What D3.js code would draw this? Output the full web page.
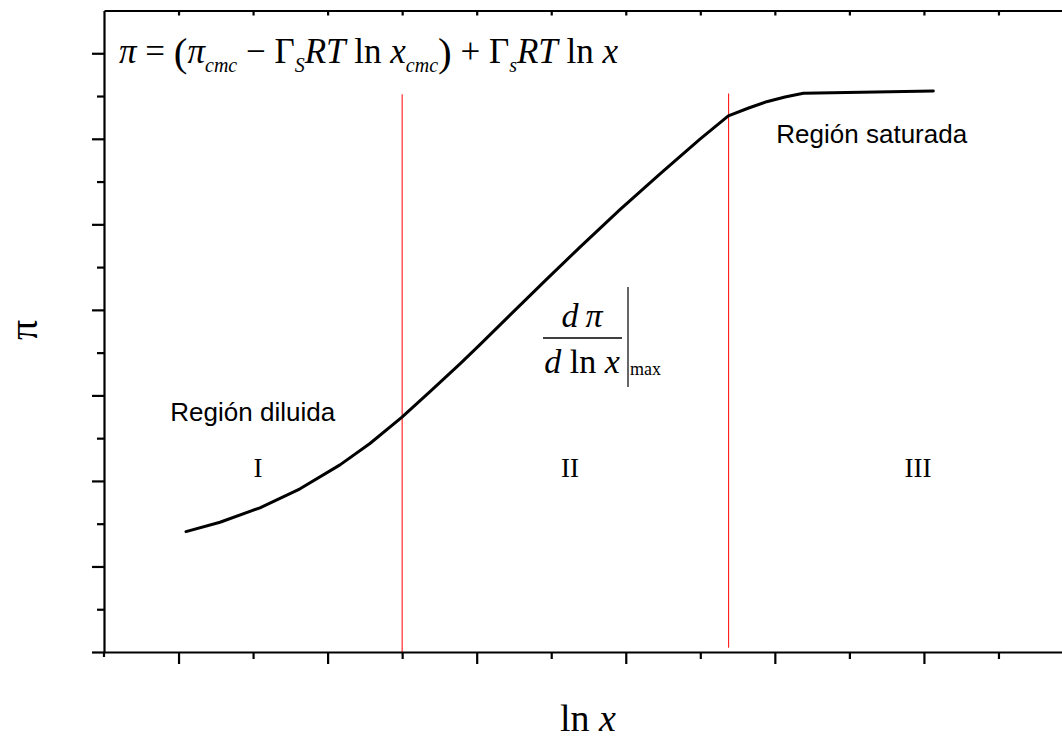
<!DOCTYPE html>
<html>
<head>
<meta charset="utf-8">
<script src="https://cdn.jsdelivr.net/npm/d3@7/dist/d3.min.js"></script>
<style>
  html, body { margin: 0; padding: 0; background: #fff; }
  svg { display: block; }
  .serif { font-family: "Liberation Serif", "Times New Roman", serif; }
  .sans { font-family: "Liberation Sans", Arial, sans-serif; }
</style>
</head>
<body>
<svg id="chart" width="1062" height="738"></svg>
<script>
// Surface pressure isotherm: pi versus ln x
const lnX = [1.050, 1.278, 1.546, 1.815, 2.083, 2.284, 2.497, 2.685, 2.888, 3.022, 3.223,
             3.470, 3.693, 3.961, 4.230, 4.496, 4.688, 4.820, 4.945, 5.068, 5.191, 6.063];
const piValues = [1.407, 1.517, 1.686, 1.908, 2.188, 2.438, 2.743, 3.040, 3.368, 3.594, 3.938,
                  4.359, 4.734, 5.171, 5.591, 5.994, 6.269, 6.357, 6.434, 6.489, 6.532, 6.559];

// Region boundaries (vertical markers)
const boundaries = [
  { x: 2.5, y0: 0.0, y1: 6.52 },
  { x: 4.69, y0: 0.05, y1: 6.53 }
];

// Axis ticks (no numeric labels)
const xMajorTicks = [1, 2, 3, 4, 5, 6];
const xMinorTicks = [1.5, 2.5, 3.5, 4.5, 5.5, 6.5];
const yMajorTicks = [0, 1, 2, 3, 4, 5, 6, 7];
const yMinorTicks = [0.5, 1.5, 2.5, 3.5, 4.5, 5.5, 6.5];
const topTicks = [1, 1.5, 2, 2.5, 3, 3.5, 4, 4.5, 5, 5.5, 6, 6.5];

// Region labels
const regionNames = [
  { text: "Región diluida", x: 0.945, y: 2.7 },
  { text: "Región saturada", x: 5.01, y: 5.95 }
];
const romanLabels = [
  { text: "I", x: 1.533, y: 2.05 },
  { text: "II", x: 3.626, y: 2.05 },
  { text: "III", x: 5.96, y: 2.05 }
];

const svg = d3.select("#chart");
const W = 1062, H = 738;
svg.append("rect").attr("width", W).attr("height", H).attr("fill", "#fff");

const x = d3.scaleLinear().domain([0.5, 7]).range([104, 1073]);
const y = d3.scaleLinear().domain([0, 7.5]).range([652, 10.5]);

// Red boundary lines
svg.append("g").selectAll("line").data(boundaries).join("line")
  .attr("x1", d => x(d.x)).attr("x2", d => x(d.x))
  .attr("y1", d => y(d.y0)).attr("y2", d => y(d.y1))
  .attr("stroke", "#ff0000").attr("stroke-width", 1);

// Axes
function styleAxis(g) {
  g.selectAll("path.domain").attr("stroke", "#000").attr("stroke-width", 2.2);
  g.selectAll(".tick line").attr("stroke", "#000").attr("stroke-width", 2.2);
  g.selectAll(".tick text").remove();
}
svg.append("g").attr("transform", `translate(0,${y(0)})`)
  .call(d3.axisBottom(x).tickValues(xMajorTicks).tickSize(12).tickSizeOuter(0).tickFormat(""))
  .call(styleAxis);
svg.append("g").attr("transform", `translate(0,${y(0)})`)
  .call(d3.axisBottom(x).tickValues(xMinorTicks).tickSize(7).tickSizeOuter(0).tickFormat(""))
  .call(g => g.select("path.domain").remove())
  .call(styleAxis);
svg.append("g").attr("transform", `translate(0,${y(7.5)})`)
  .call(d3.axisBottom(x).tickValues(topTicks).tickSize(5).tickSizeOuter(0).tickFormat(""))
  .call(styleAxis);
svg.append("g").attr("transform", `translate(${x(0.5)},0)`)
  .call(d3.axisLeft(y).tickValues(yMajorTicks).tickSize(12).tickSizeOuter(0).tickFormat(""))
  .call(styleAxis);
svg.append("g").attr("transform", `translate(${x(0.5)},0)`)
  .call(d3.axisLeft(y).tickValues(yMinorTicks).tickSize(7).tickSizeOuter(0).tickFormat(""))
  .call(g => g.select("path.domain").remove())
  .call(styleAxis);
// short extension of the y axis below the x axis
svg.append("line").attr("x1", x(0.5)).attr("x2", x(0.5))
  .attr("y1", y(0)).attr("y2", y(0) + 5).attr("stroke", "#000").attr("stroke-width", 2.2);

// Isotherm curve
const line = d3.line().x((d, i) => x(lnX[i])).y((d, i) => y(piValues[i])).curve(d3.curveLinear);
svg.append("path").datum(lnX).attr("d", line)
  .attr("fill", "none").attr("stroke", "#000").attr("stroke-width", 3)
  .attr("stroke-linejoin", "round").attr("stroke-linecap", "round");

// Region labels
svg.append("g").selectAll("text").data(regionNames).join("text")
  .attr("class", "sans").attr("x", d => x(d.x)).attr("y", d => y(d.y))
  .attr("font-size", 26).attr("fill", "#000").text(d => d.text);
svg.append("g").selectAll("text").data(romanLabels).join("text")
  .attr("class", "serif").attr("x", d => x(d.x)).attr("y", d => y(d.y))
  .attr("text-anchor", "middle").attr("font-size", 27).attr("fill", "#000").text(d => d.text);

// Axis titles
svg.append("text").attr("class", "serif")
  .attr("transform", "translate(36.5,330) rotate(-90)")
  .attr("text-anchor", "middle").attr("font-size", 40).text("π");
const xt = svg.append("text").attr("class", "serif")
  .attr("x", 588).attr("y", 731).attr("text-anchor", "middle").attr("font-size", 38);
xt.append("tspan").text("ln ");
xt.append("tspan").attr("font-style", "italic").text("x");

// Equation at top-left: each piece gets its own baseline
const eqBase = 63;
const eq = svg.append("text").attr("class", "serif").attr("x", 119).attr("y", eqBase).attr("font-size", 35);
const parts = [
  ["π", "i"], [" = ", "n"], ["(", "p"], ["π", "i"], ["cmc", "sub"], [" − ", "n"], ["Γ", "n"], ["S", "sub"],
  ["RT", "i"], [" ln ", "n"], ["x", "i"], ["cmc", "sub"], [")", "p"], [" + ", "n"], ["Γ", "n"], ["s", "sub"],
  ["RT", "i"], [" ln ", "n"], ["x", "i"]
];
parts.forEach(([t, k]) => {
  const ts = eq.append("tspan").text(t);
  if (k === "i" || k === "sub") ts.attr("font-style", "italic");
  if (k === "sub") ts.attr("font-size", 20).attr("y", eqBase + 9);
  else if (k === "p") ts.attr("font-size", 41).attr("y", eqBase + 3);
  else ts.attr("y", eqBase);
});

// Derivative annotation
const fx = 582;
svg.append("text").attr("class", "serif").attr("x", fx).attr("y", 327)
  .attr("text-anchor", "middle").attr("font-size", 34).attr("font-style", "italic").text("d\u2009π");
svg.append("line").attr("x1", 543).attr("x2", 622).attr("y1", 338).attr("y2", 338)
  .attr("stroke", "#000").attr("stroke-width", 1.5);
const den = svg.append("text").attr("class", "serif").attr("x", fx).attr("y", 373)
  .attr("text-anchor", "middle").attr("font-size", 34);
den.append("tspan").attr("font-style", "italic").text("d");
den.append("tspan").text(" ln ");
den.append("tspan").attr("font-style", "italic").text("x");
svg.append("line").attr("x1", 628).attr("x2", 628).attr("y1", 287).attr("y2", 387)
  .attr("stroke", "#000").attr("stroke-width", 1.2);
svg.append("text").attr("class", "serif").attr("x", 630).attr("y", 375)
  .attr("font-size", 18).text("max");
</script>
</body>
</html>
